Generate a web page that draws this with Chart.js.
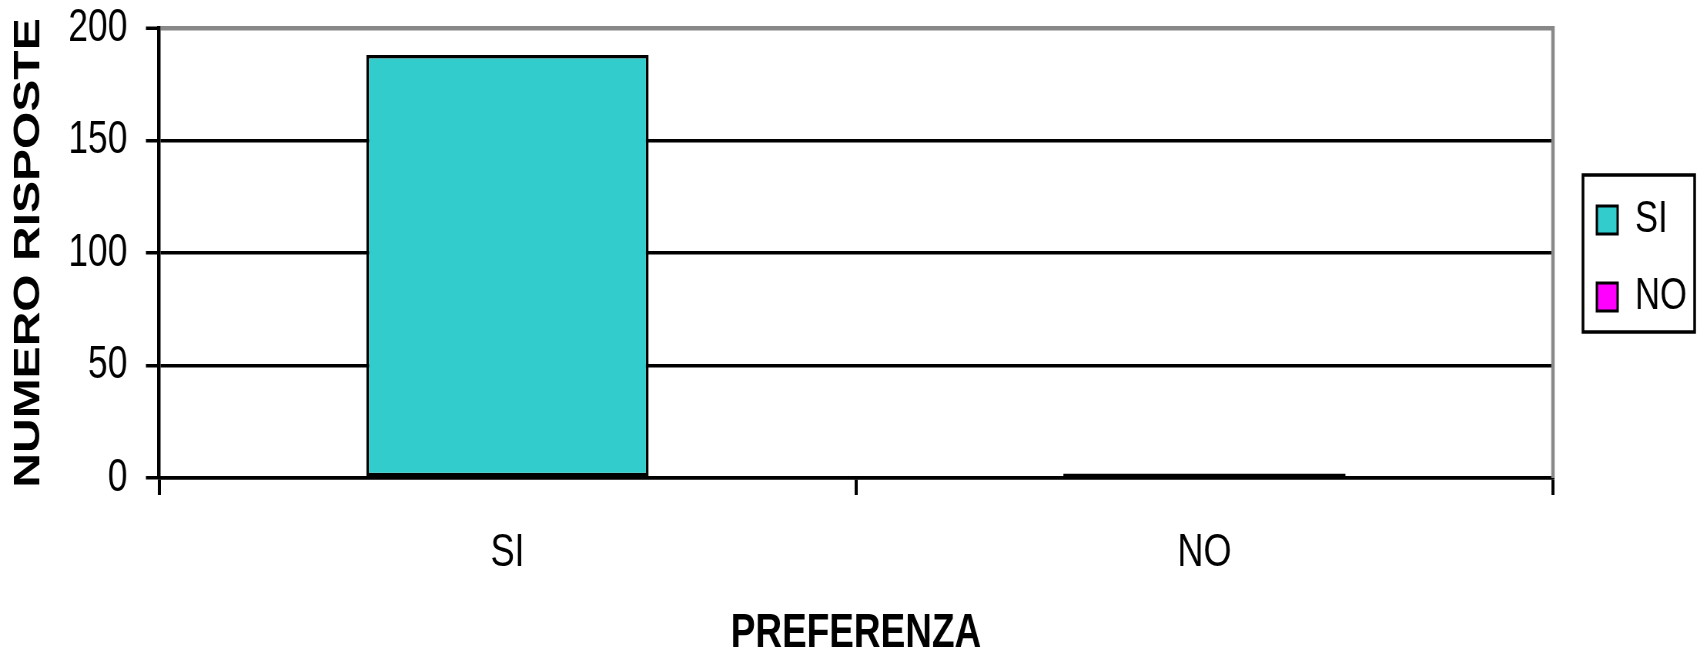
<!DOCTYPE html>
<html>
<head>
<meta charset="utf-8">
<script src="https://cdn.jsdelivr.net/npm/chart.js@4"></script>
<style>
  html, body { margin: 0; padding: 0; background: #ffffff; overflow: hidden; }
  #c { display: block; }
</style>
</head>
<body>
<canvas id="c" width="2208" height="658" style="width:1700px;height:658px;"></canvas>
<script>
// ---- data ----
const categories = ['SI', 'NO'];
const responses = [188, 2];
const barColors = ['#33CCCC', '#FF00FF'];
const yTicks = [0, 50, 100, 150, 200];
const yTitle = 'NUMERO RISPOSTE';
const xTitle = 'PREFERENZA';

// The reference is horizontally condensed: the canvas is drawn wider and shown at 1700px.
const FONT = '"Liberation Sans", Arial, sans-serif';
const LEGEND_SHIFT = { x: 25, y: 5.5 };

const framePlugin = {
  id: 'frame',
  beforeUpdate(chart) {
    const lg = chart.legend;
    if (lg && !lg._wrapped) {
      const orig = lg.fit.bind(lg);
      lg.fit = function () { orig(); this.width = 191; };
      lg._wrapped = true;
    }
  },
  afterLayout(chart) {
    const lg = chart.legend;
    lg.left += LEGEND_SHIFT.x; lg.right += LEGEND_SHIFT.x;
    lg.top += LEGEND_SHIFT.y; lg.bottom += LEGEND_SHIFT.y;
  },
  afterDraw(chart) {
    const ctx = chart.ctx;
    const a = chart.chartArea;
    ctx.save();
    ctx.strokeStyle = '#888888';
    ctx.lineWidth = 4.5;
    ctx.beginPath();
    ctx.moveTo(a.right, a.top - 2);
    ctx.lineTo(a.right, a.bottom);
    ctx.stroke();
    const hb = chart.legend.legendHitBoxes;
    if (hb && hb.length) {
      const off = (hb[0].height - 28) / 2;
      const left = hb[0].left - 18;
      let right = 0;
      hb.forEach(h => { right = Math.max(right, h.left + h.width); });
      right += 10;
      const top = hb[0].top + off - 31;
      const bottom = hb[hb.length - 1].top + off + 28 + 21;
      ctx.strokeStyle = '#000000';
      ctx.lineWidth = 3.5;
      ctx.strokeRect(left, top, right - left, bottom - top);
    }
    ctx.restore();
  }
};

new Chart(document.getElementById('c'), {
  type: 'bar',
  data: {
    labels: categories,
    datasets: [{
      label: 'Risposte',
      data: responses,
      backgroundColor: barColors,
      borderColor: '#000000',
      borderWidth: 3.5,
      borderSkipped: false,
      categoryPercentage: 1.0,
      barPercentage: 0.405
    }]
  },
  options: {
    responsive: false,
    devicePixelRatio: 1,
    animation: false,
    layout: { padding: { top: 28, right: 0, bottom: 0, left: 0 } },
    plugins: {
      tooltip: { enabled: false },
      legend: {
        position: 'right',
        fullSize: false,
        labels: {
          boxWidth: 27,
          boxHeight: 28,
          padding: 32,
          color: '#000000',
          font: { family: FONT, size: 45 },
          generateLabels(chart) {
            const ds = chart.data.datasets[0];
            return chart.data.labels.map((l, i) => ({
              text: l,
              fillStyle: ds.backgroundColor[i],
              strokeStyle: '#000000',
              lineWidth: 3,
              hidden: false,
              index: i,
              fontColor: '#000000'
            }));
          }
        },
        onClick() {}
      }
    },
    scales: {
      x: {
        offset: true,
        grid: {
          offset: true,
          drawOnChartArea: false,
          color: '#000000',
          lineWidth: 4,
          tickLength: 17
        },
        border: { color: '#000000', width: 3.5 },
        ticks: {
          color: '#000000',
          padding: 30,
          font: { family: FONT, size: 47 }
        },
        title: {
          display: true,
          text: xTitle,
          color: '#000000',
          font: { family: FONT, size: 48, weight: 'bold', lineHeight: 1.0 },
          padding: { top: 0, bottom: 0 }
        },
        afterFit(s) { s.height = 658 - 478; }
      },
      y: {
        min: 0,
        max: 200,
        afterBuildTicks(s) { s.ticks = yTicks.map(v => ({ value: v })); },
        grid: {
          color: ctx => (ctx.tick && ctx.tick.value === 200) ? '#888888' : '#000000',
          lineWidth: ctx => (ctx.tick && ctx.tick.value === 200) ? 4.5 : 3.5,
          tickColor: '#000000',
          tickWidth: 3.5,
          tickLength: 17
        },
        border: { color: '#000000', width: 4.5 },
        ticks: {
          color: '#000000',
          padding: 24,
          font: { family: FONT, size: 46 }
        },
        title: {
          display: true,
          text: yTitle,
          color: '#000000',
          font: { family: FONT, size: 48, weight: 'bold' },
          padding: { top: 9, bottom: 0 }
        },
        afterFit(s) { s.width = 206.5; s.paddingTop = 0; s.paddingBottom = 0; }
      }
    }
  },
  plugins: [framePlugin]
});
</script>
</body>
</html>
